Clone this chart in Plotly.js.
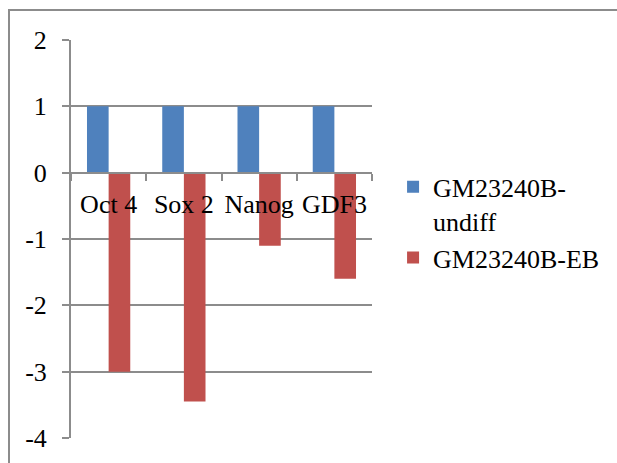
<!DOCTYPE html>
<html>
<head>
<meta charset="utf-8">
<script src="https://cdn.plot.ly/plotly-3.0.1.min.js"></script>
<style>
html,body{margin:0;padding:0;background:#fff;}
#frame{position:absolute;left:8px;top:9px;width:700px;height:600px;border:2px solid #8c8c8c;box-sizing:border-box;}
#chart{position:absolute;left:0;top:0;width:617px;height:463px;}
</style>
</head>
<body>
<div id="frame"></div>
<div id="chart"></div>
<script>
var categories = ["Oct 4", "Sox 2", "Nanog", "GDF3"];
var seriesNames = ["GM23240B-<br>undiff", "GM23240B-EB"];
var undiff = [1, 1, 1, 1];
var eb = [-3.0, -3.45, -1.1, -1.6];
var yTicks = [2, 1, 0, -1, -2, -3, -4];

var font = "Liberation Serif";
var data = [
  {type: "bar", x: categories, y: undiff, name: seriesNames[0], legendgroup: "g1", marker: {color: "#4F81BD"}},
  {type: "bar", x: categories, y: eb, name: seriesNames[1], legendgroup: "g2", marker: {color: "#C0504D"}}
];
var layout = {
  width: 617, height: 463,
  margin: {l: 71, r: 245, t: 40, b: 25},
  paper_bgcolor: "rgba(0,0,0,0)",
  plot_bgcolor: "rgba(0,0,0,0)",
  barmode: "group",
  bargap: 0.425,
  bargroupgap: 0,
  font: {family: font, size: 26, color: "#000"},
  showlegend: true,
  legend: {x: 1.07, xanchor: "left", y: 0.69, yanchor: "top", valign: "top", traceorder: "normal",
           font: {family: font, size: 26, color: "#000"}, tracegroupgap: 4},
  xaxis: {
    anchor: "free", position: 4/6,
    showline: true, linecolor: "#8c8c8c", linewidth: 2,
    ticks: "outside", tickson: "boundaries", ticklen: 7, tickcolor: "#8c8c8c", tickwidth: 2,
    showgrid: false, zeroline: false,
    tickangle: 0,
    ticklabelstandoff: 8,
    tickfont: {family: font, size: 26, color: "#000"}
  },
  yaxis: {
    range: [-4, 2], tickvals: yTicks, ticktext: yTicks.map(String),
    showline: true, linecolor: "#8c8c8c", linewidth: 2,
    ticks: "outside", ticklen: 7, tickcolor: "#8c8c8c", tickwidth: 2,
    showgrid: true, gridcolor: "#8c8c8c", gridwidth: 2,
    zeroline: false,
    ticklabelstandoff: 10,
    tickfont: {family: font, size: 26, color: "#000"}
  }
};
Plotly.newPlot("chart", data, layout, {displayModeBar: false, staticPlot: true});
</script>
</body>
</html>
